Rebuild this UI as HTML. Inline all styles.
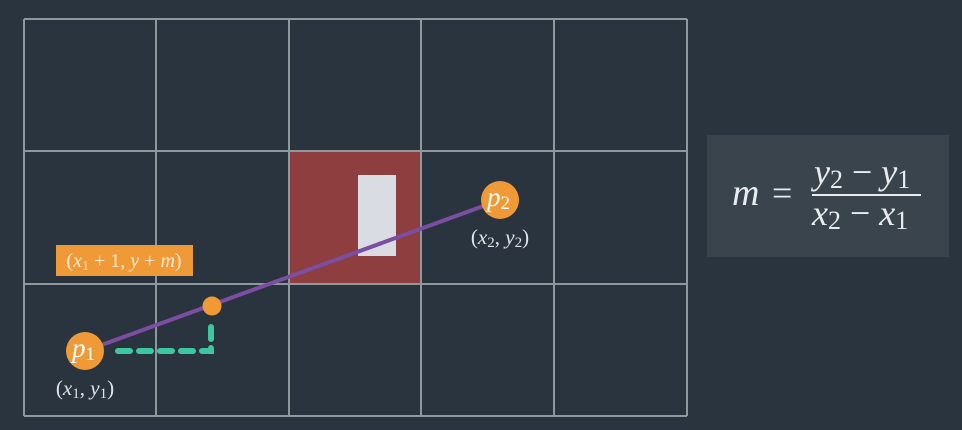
<!DOCTYPE html>
<html><head><meta charset="utf-8"><style>
html,body{margin:0;padding:0;background:#29343e;}
svg{display:block;}
.m{font-family:"Liberation Serif",serif;font-style:italic;}
</style></head><body>
<svg width="962" height="430">
<rect x="0" y="0" width="962" height="430" fill="#29343e"/>
<g id="grid"></g>
<g id="marks"></g>
<rect x="707" y="135" width="242" height="122" fill="#3a444d"/>
<g class="m" fill="#e9ecef">
<text x="732" y="205" font-size="38">m</text>
<text x="772" y="205" font-size="36" font-style="normal">=</text>
<text x="814" y="184" font-size="36">y<tspan font-size="26" font-style="normal" dy="4">2</tspan><tspan dy="-4" font-style="normal"> − </tspan>y<tspan font-size="26" font-style="normal" dy="4">1</tspan></text>
<line x1="812" y1="195" x2="921" y2="195" stroke="#e9ecef" stroke-width="2"/>
<text x="812" y="225" font-size="36">x<tspan font-size="26" font-style="normal" dy="4">2</tspan><tspan dy="-4" font-style="normal"> − </tspan>x<tspan font-size="26" font-style="normal" dy="4">1</tspan></text>
</g>
</svg>
<script>
const colEdges=[24,156,289,421,554,687];
const rowEdges=[19,151,284,416];
const p1=[85,351];
const p2=[500,200];
const midPoint=[212,306];
const NS="http://www.w3.org/2000/svg";
function el(t,a,parent){const e=document.createElementNS(NS,t);for(const k in a)e.setAttribute(k,a[k]);parent.appendChild(e);return e;}
const grid=document.getElementById('grid'),marks=document.getElementById('marks');
let c=el('rect',{x:colEdges[2],y:rowEdges[1],width:colEdges[3]-colEdges[2],height:rowEdges[2]-rowEdges[1],fill:'#8e3e3f'},grid);


let w=el('rect',{x:358,y:175,width:38,height:81,fill:'#d9dde3'},grid);


colEdges.forEach(x=>{let l=el('line',{x1:x,y1:rowEdges[0],x2:x,y2:rowEdges[3],stroke:'#8e999e','stroke-width':2},grid);

});
rowEdges.forEach(y=>{let l=el('line',{x1:colEdges[0],y1:y,x2:colEdges[5],y2:y,stroke:'#8e999e','stroke-width':2},grid);

});
let d=el('path',{d:`M${p1[0]+33},${p1[1]} L${midPoint[0]-1},${p1[1]} L${midPoint[0]-1},${midPoint[1]+12}`,fill:'none',stroke:'#3cc7a0','stroke-width':6,'stroke-dasharray':'12 9','stroke-linecap':'round'},marks);


let ln=el('line',{x1:p1[0],y1:p1[1],x2:p2[0],y2:p2[1],stroke:'#7b4ea1','stroke-width':4},marks);


let md=el('circle',{cx:midPoint[0],cy:midPoint[1],r:9.5,fill:'#ef9a36'},marks);


[[p1,'1'],[p2,'2']].forEach(([p,i])=>{
 let g=el('g',{},marks);
 
 
 el('circle',{cx:p[0],cy:p[1],r:19,fill:'#ef9a36'},g);
 let t=el('text',{x:p[0]-13,y:p[1]+6,'font-size':27,fill:'#fff',class:'m'},g);
 t.innerHTML='p<tspan font-size="19" font-style="normal" dy="3">'+i+'</tspan>';
 let t2=el('text',{x:p[0],y:p[1]+44,'font-size':21,fill:'#e0e4e8',class:'m','text-anchor':'middle'},g);
 t2.innerHTML='<tspan font-style="normal">(</tspan>x<tspan font-size="15" font-style="normal" dy="3">'+i+'</tspan><tspan dy="-3" font-style="normal">, </tspan>y<tspan font-size="15" font-style="normal" dy="3">'+i+'</tspan><tspan dy="-3" font-style="normal">)</tspan>';
});
let lb=el('g',{},marks);


el('rect',{x:56,y:245,width:137,height:31,fill:'#ef9a36'},lb);
let lt=el('text',{x:124,y:267,'font-size':20,fill:'#fbe9d4',class:'m','text-anchor':'middle'},lb);
lt.innerHTML='<tspan font-style="normal">(</tspan>x<tspan font-size="14" font-style="normal" dy="3">1</tspan><tspan dy="-3" font-style="normal"> + 1, </tspan>y<tspan font-style="normal"> + </tspan>m<tspan font-style="normal">)</tspan>';
</script>
</body></html>
